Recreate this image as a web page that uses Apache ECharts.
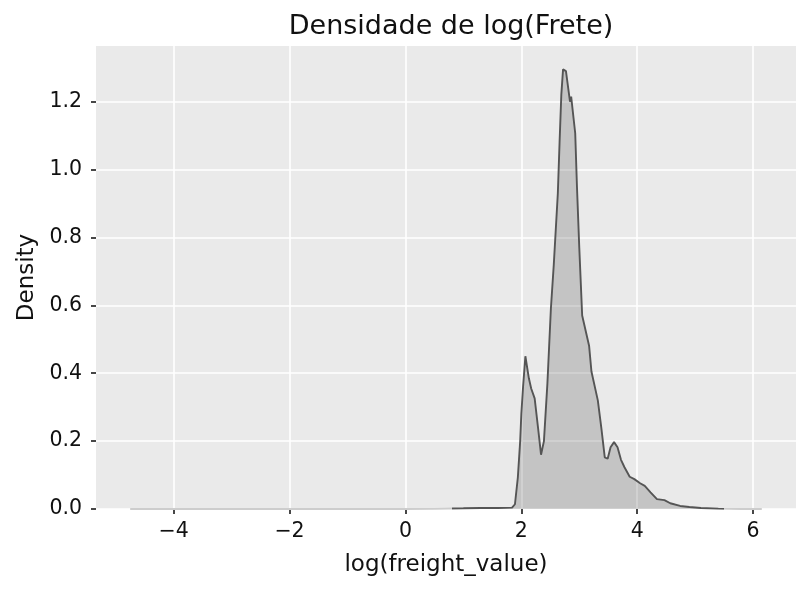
<!DOCTYPE html>
<html>
<head>
<meta charset="utf-8">
<script src="https://cdn.jsdelivr.net/npm/echarts@6/dist/echarts.min.js"></script>
<style>
  html, body { margin: 0; padding: 0; background: #fff; }
  #chart { width: 809px; height: 593px; }
</style>
</head>
<body>
<div id="chart"></div>
<script>
// kde de log(freight_value)
var xVals = [-4.75, -4, -3, -2, -1, 0, 0.5, 1.0, 1.3, 1.6, 1.84, 1.89, 1.94, 1.98, 2.0, 2.03, 2.07,
  2.13, 2.17, 2.23, 2.29, 2.34, 2.39, 2.45, 2.51, 2.56, 2.63, 2.66, 2.69, 2.72, 2.77, 2.84, 2.86,
  2.89, 2.93, 2.96, 3.0, 3.05, 3.17, 3.21, 3.32, 3.38, 3.44, 3.49, 3.54, 3.60, 3.66, 3.72, 3.78,
  3.87, 3.95, 4.05, 4.13, 4.23, 4.34, 4.47, 4.57, 4.74, 4.9, 5.1, 5.4, 5.8, 6.15];
var density = [0, 0, 0, 0, 0, 0, 0.0005, 0.002, 0.003, 0.003, 0.004, 0.014, 0.093, 0.2, 0.28, 0.36, 0.45,
  0.385, 0.355, 0.326, 0.237, 0.16, 0.2, 0.37, 0.59, 0.72, 0.93, 1.08, 1.22, 1.295, 1.29, 1.2, 1.215,
  1.216, 1.107, 0.95, 0.77, 0.57, 0.48, 0.405, 0.32, 0.24, 0.152, 0.148, 0.182, 0.197, 0.182, 0.145, 0.123,
  0.095, 0.088, 0.076, 0.068, 0.049, 0.029, 0.026, 0.017, 0.009, 0.006, 0.003, 0.001, 0, 0];
var xTicks = [-4, -2, 0, 2, 4, 6];
var yTicks = [0, 0.2, 0.4, 0.6, 0.8, 1.0, 1.2];

var pts = xVals.map(function (x, i) { return [x, density[i]]; });
var font = 'DejaVu Sans';

var myChart = echarts.init(document.getElementById('chart'));
myChart.setOption({
  animation: false,
  backgroundColor: '#fff',
  title: {
    text: 'Densidade de log(Frete)',
    left: 446, top: 8, textAlign: 'center',
    textStyle: { fontFamily: font, fontSize: 27, fontWeight: 'normal', color: '#111' }
  },
  grid: { left: 96, right: 13, top: 46, bottom: 84, show: true, backgroundColor: '#eaeaea', borderWidth: 0 },
  xAxis: {
    type: 'value', min: -5.34, max: 6.74,
    name: 'log(freight_value)', nameLocation: 'middle', nameGap: 45,
    nameTextStyle: { fontFamily: font, fontSize: 23, color: '#111' },
    axisLine: { show: false, onZero: false },
    axisTick: { show: true, length: 5, customValues: xTicks, lineStyle: { color: '#333', width: 1.8 } },
    axisLabel: {
      customValues: xTicks, margin: 12, fontFamily: font, fontSize: 20.5, color: '#111',
      formatter: function (v) { return v < 0 ? '\u2212' + Math.abs(v) : String(v); }
    },
    splitLine: { show: true, lineStyle: { color: '#fff', width: 1.6 } }
  },
  yAxis: {
    type: 'value', min: 0, max: 1.364,
    name: 'Density', nameLocation: 'middle', nameGap: 56,
    nameTextStyle: { fontFamily: font, fontSize: 23, color: '#111' },
    axisLine: { show: false, onZero: false },
    axisTick: { show: true, length: 5, customValues: yTicks, lineStyle: { color: '#333', width: 1.8 } },
    axisLabel: {
      customValues: yTicks, margin: 14, fontFamily: font, fontSize: 20.5, color: '#111',
      formatter: function (v) { return v.toFixed(1); }
    },
    splitLine: { show: true, lineStyle: { color: '#fff', width: 1.6 } }
  },
  visualMap: {
    show: false, type: 'piecewise', dimension: 0, seriesIndex: 0,
    pieces: [
      { lt: 0.8, color: '#cdcdcd' },
      { gte: 0.8, lt: 5.5, color: '#555555' },
      { gte: 5.5, color: '#cdcdcd' }
    ]
  },
  series: [{
    type: 'line',
    data: pts,
    showSymbol: false,
    symbol: 'none',
    lineStyle: { width: 1.9 },
    areaStyle: { color: '#555555', opacity: 0.25 }
  }]
});
</script>
</body>
</html>
